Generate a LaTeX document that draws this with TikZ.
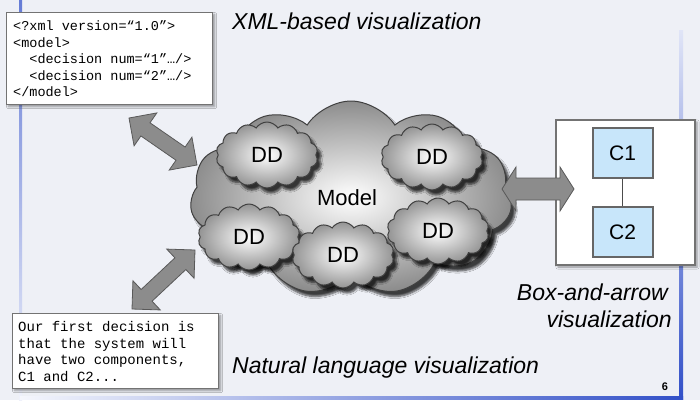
\documentclass[tikz,border=0pt]{standalone}
\usepackage{fontspec}
\setmainfont{Liberation Sans}
\newfontfamily\monof{Liberation Mono}
\usetikzlibrary{shapes.symbols,shadows,shadows.blur,calc,fadings}

\definecolor{bg}{RGB}{238,240,246}
\definecolor{frameblue}{RGB}{50,80,200}
\definecolor{cfill}{RGB}{200,230,250}
\definecolor{arrgray}{RGB}{140,140,140}

\newcommand{\xmlfont}{\monof\fontsize{13.5}{16.5}\selectfont}
\newcommand{\nlfont}{\monof\fontsize{14}{16.7}\selectfont}

\tikzset{
  lbl/.style={font=\fontsize{23}{27}\selectfont\itshape, inner sep=0pt},
  cloudbase/.style={cloud, cloud ignores aspect, draw=black!75, line width=1pt,
    blur shadow={shadow xshift=4pt, shadow yshift=-5pt, shadow blur steps=6, shadow opacity=75}},
  bigcloud/.style={cloudbase, cloud puffs=11, cloud puff arc=115,
    inner color=white, outer color=black!45, minimum width=322pt, minimum height=194pt},
  ddcloud/.style={cloudbase, cloud puffs=14, cloud puff arc=115,
    inner color=white, outer color=black!42, minimum width=102pt, minimum height=66pt,
    font=\fontsize{22}{26}\selectfont, inner sep=0pt},
  textbox/.style={draw=black!55, line width=1.2pt, fill=white, anchor=north west,
    inner sep=0pt, minimum width=206pt,
    blur shadow={shadow xshift=2pt, shadow yshift=-2pt, shadow blur steps=4, shadow opacity=40}},
  textlines/.style={anchor=north west, inner sep=0pt, align=left},
  cbox/.style={draw=black!60, line width=2pt, fill=cfill, minimum width=60pt, minimum height=50pt,
    font=\fontsize{21}{25}\selectfont, inner sep=0pt},
  blockarr/.style={fill=arrgray, draw=black!65, line width=0.8pt, line join=miter}
}

% #1 start, #2 end, #3 head length, #4 shaft half width, #5 head half width
\newcommand{\blkarrow}[5]{%
  \draw[blockarr] (#1)
    -- ($(#1)!#3!(#2)!#5!90:(#2)$) -- ($(#1)!#3!(#2)!#4!90:(#2)$)
    -- ($(#2)!#3!(#1)!#4!-90:(#1)$) -- ($(#2)!#3!(#1)!#5!-90:(#1)$)
    -- (#2)
    -- ($(#2)!#3!(#1)!#5!90:(#1)$) -- ($(#2)!#3!(#1)!#4!90:(#1)$)
    -- ($(#1)!#3!(#2)!#4!-90:(#2)$) -- ($(#1)!#3!(#2)!#5!-90:(#2)$)
    -- cycle;}

\begin{document}
\begin{tikzpicture}[x=1pt,y=-1pt]
  \useasboundingbox (0,0) rectangle (700,400);
  \fill[bg] (0,0) rectangle (700,400);

  % slide frame
  \shade[top color=frameblue!75, bottom color=frameblue!8] (19,0) rectangle (22,400);
  \shade[top color=frameblue!15, bottom color=frameblue] (679,30) rectangle (683,399);
  \shade[left color=frameblue!5, right color=frameblue] (20,396) rectangle (683,399);

  % titles
  \node[lbl, anchor=base west] (tx) at (232,29) {XML-based visualization};
  \node[lbl, anchor=base west] (tn) at (232,373) {Natural language visualization};
  \node[lbl, anchor=base east] (tb1) at (668,300) {Box-and-arrow};
  \node[lbl, anchor=base east] (tb2) at (672,327) {visualization};
  \node[font=\fontsize{11}{13}\selectfont\bfseries, inner sep=0pt] (pg) at (665,387) {6};

  % text boxes
  \node[textbox, minimum height=92pt] (xml) at (6,12) {};
  \node[textlines, font=\xmlfont] (xmltext) at (13,21)
    {\xmlfont <?xml version=“1.0”>\\
     \xmlfont <model>\\
     \xmlfont \hspace*{16.2pt}<decision num=“1”…/>\\
     \xmlfont \hspace*{16.2pt}<decision num=“2”…/>\\
     \xmlfont </model>};
  \node[textbox, minimum height=75pt] (nl) at (12,313) {};
  \node[textlines, font=\nlfont] (nltext) at (18,321)
    {\nlfont Our first decision is\\
     \nlfont that the system will\\
     \nlfont have two components,\\
     \nlfont C1 and C2...};

  % model cloud
  \node[bigcloud] (model) at (351,198) {};
  \node[ddcloud] (dd1) at (267,155) {DD};
  \node[ddcloud] (dd2) at (432,157) {DD};
  \node[ddcloud] (dd3) at (249,237) {DD};
  \node[ddcloud] (dd4) at (343,255) {DD};
  \node[ddcloud] (dd5) at (438,231) {DD};
  \node[font=\fontsize{22}{26}\selectfont, inner sep=0pt] (mlbl) at (347,198) {Model};

  % box-and-arrow view
  \node[draw=black!55, line width=1.2pt, fill=white, minimum width=139pt, minimum height=145pt,
        blur shadow={shadow xshift=2pt, shadow yshift=-2pt, shadow blur steps=4, shadow opacity=40}]
        (bav) at (625.5,192.5) {};
  \node[cbox] (c1) at (622.5,153) {C1};
  \node[cbox] (c2) at (622.5,232) {C2};
  \draw[black!70, line width=0.8pt] (c1.south) -- (c2.north);

  % block arrows
  \coordinate (a1s) at (129,118);
  \coordinate (a1e) at (197,165);
  \coordinate (a2s) at (132,309);
  \coordinate (a2e) at (195,250);
  \coordinate (a3s) at (502,189);
  \coordinate (a3e) at (574,189);
  \blkarrow{a1s}{a1e}{20pt}{8pt}{20pt}
  \blkarrow{a2s}{a2e}{20pt}{8pt}{20pt}
  \blkarrow{a3s}{a3e}{14pt}{11pt}{22pt}
\end{tikzpicture}
\end{document}
